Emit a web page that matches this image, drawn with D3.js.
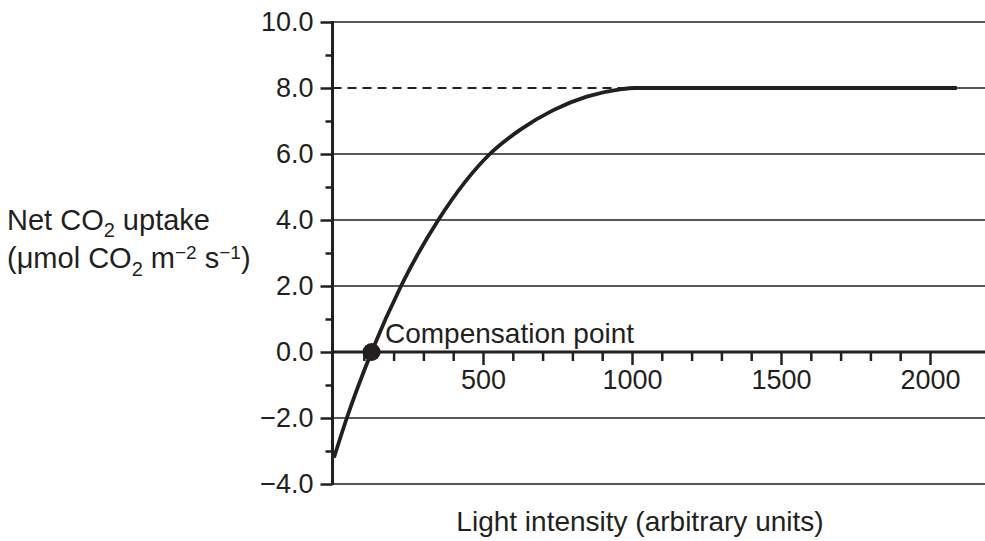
<!DOCTYPE html>
<html>
<head>
<meta charset="utf-8">
<script src="https://cdn.jsdelivr.net/npm/d3@7"></script>
<style>
  html, body { margin: 0; padding: 0; background: #fff; }
  svg { display: block; }
  text { font-family: "Liberation Sans", Arial, sans-serif; fill: #231f20; }
</style>
</head>
<body>
<svg id="chart" width="985" height="541"></svg>
<script>
// ---- data ----
const lightIntensity = [0, 43, 126, 225, 350, 523, 624, 736, 848, 960, 1010, 1500, 2090];
const netUptake      = [-3.2, -2.0, 0.0, 2.0, 4.0, 6.0, 6.73, 7.33, 7.74, 7.96, 8.0, 8.0, 8.0];
const compensationPoint = { x: 126, y: 0 };
const yMajorTicks = [-4, -2, 0, 2, 4, 6, 8, 10];
const yMinorTicks = [-3, -1, 1, 3, 5, 7, 9];
const xMajorTicks = [500, 1000, 1500, 2000];
const xMinorTicks = [100, 200, 300, 400, 600, 700, 800, 900, 1100, 1200, 1300, 1400, 1600, 1700, 1800, 1900];
const saturationLevel = 8;
const saturationStart = 960;

const ink = "#231f20";
const svg = d3.select("#chart");
const x = d3.scaleLinear().domain([0, 2000]).range([334, 930]);
const y = d3.scaleLinear().domain([-4, 10]).range([484, 22]);
const xLeft = 332.5, xRight = 985;

const fmt = v => (v < 0 ? "\u2212" + Math.abs(v).toFixed(1) : v.toFixed(1));

// gridlines
svg.append("g").selectAll("line")
  .data(yMajorTicks.filter(v => v !== 0 && v !== saturationLevel))
  .join("line")
  .attr("x1", xLeft).attr("x2", xRight)
  .attr("y1", d => y(d)).attr("y2", d => y(d))
  .attr("stroke", ink).attr("stroke-width", 1.3);

// dashed line at saturation level
svg.append("line")
  .attr("x1", xLeft).attr("x2", x(saturationStart))
  .attr("y1", y(saturationLevel)).attr("y2", y(saturationLevel))
  .attr("stroke", ink).attr("stroke-width", 2).attr("stroke-dasharray", "9,6");
svg.append("line")
  .attr("x1", x(saturationStart)).attr("x2", xRight)
  .attr("y1", y(saturationLevel)).attr("y2", y(saturationLevel))
  .attr("stroke", ink).attr("stroke-width", 1.3);

// y axis
const yAxis = svg.append("g").attr("transform", `translate(${xLeft},0)`)
  .call(d3.axisLeft(y).tickValues(yMajorTicks).tickSize(12).tickPadding(7).tickFormat(fmt));
const yMinor = svg.append("g").attr("transform", `translate(${xLeft},0)`)
  .call(d3.axisLeft(y).tickValues(yMinorTicks).tickSize(7).tickFormat(""));
[yAxis, yMinor].forEach(g => {
  g.select(".domain").remove();
  g.selectAll(".tick line").attr("stroke", ink).attr("stroke-width", 2.5);
});
yAxis.selectAll(".tick text").attr("font-size", 27).attr("fill", ink)
  .style("font-family", '"Liberation Sans", Arial, sans-serif');
svg.append("line")
  .attr("x1", xLeft).attr("x2", xLeft).attr("y1", y(10) - 1).attr("y2", y(-4) + 1)
  .attr("stroke", ink).attr("stroke-width", 3);

// x axis
const xAxis = svg.append("g").attr("transform", `translate(0,${y(0)})`)
  .call(d3.axisBottom(x).tickValues(xMajorTicks).tickSize(13).tickPadding(5).tickFormat(d3.format("d")));
const xMinor = svg.append("g").attr("transform", `translate(0,${y(0)})`)
  .call(d3.axisBottom(x).tickValues(xMinorTicks).tickSize(9).tickFormat(""));
[xAxis, xMinor].forEach(g => {
  g.select(".domain").remove();
  g.selectAll(".tick line").attr("stroke", ink).attr("stroke-width", 2.5);
});
xAxis.selectAll(".tick text").attr("font-size", 27).attr("fill", ink)
  .style("font-family", '"Liberation Sans", Arial, sans-serif');
svg.append("line")
  .attr("x1", xLeft).attr("x2", xRight).attr("y1", y(0)).attr("y2", y(0))
  .attr("stroke", ink).attr("stroke-width", 3);

// curve
const pts = lightIntensity.map((v, i) => [v, netUptake[i]]);
svg.append("path")
  .datum(pts)
  .attr("fill", "none").attr("stroke", ink).attr("stroke-width", 3.8)
  .attr("d", d3.line().x(d => x(d[0])).y(d => y(d[1])).curve(d3.curveMonotoneX));

// compensation point
svg.append("circle")
  .attr("cx", x(compensationPoint.x)).attr("cy", y(compensationPoint.y)).attr("r", 9)
  .attr("fill", ink);
svg.append("text")
  .attr("x", 385).attr("y", 343)
  .attr("font-size", 28).text("Compensation point");

// x label
svg.append("text")
  .attr("x", 640).attr("y", 531).attr("text-anchor", "middle")
  .attr("font-size", 28).text("Light intensity (arbitrary units)");

// y label
const yl1 = svg.append("text").attr("x", 7).attr("y", 230).attr("font-size", 29);
yl1.append("tspan").text("Net CO");
yl1.append("tspan").attr("font-size", 20).attr("dy", 7).text("2");
yl1.append("tspan").attr("dy", -7).text(" uptake");

const yl2 = svg.append("text").attr("x", 7).attr("y", 268).attr("font-size", 29);
yl2.append("tspan").text("(\u03bcmol CO");
yl2.append("tspan").attr("font-size", 20).attr("dy", 8).text("2");
yl2.append("tspan").attr("dy", -8).text(" m");
yl2.append("tspan").attr("font-size", 19).attr("dy", -9).text("\u22122");
yl2.append("tspan").attr("dy", 9).text(" s");
yl2.append("tspan").attr("font-size", 19).attr("dy", -9).text("\u22121");
yl2.append("tspan").attr("dy", 9).text(")");
</script>
</body>
</html>
